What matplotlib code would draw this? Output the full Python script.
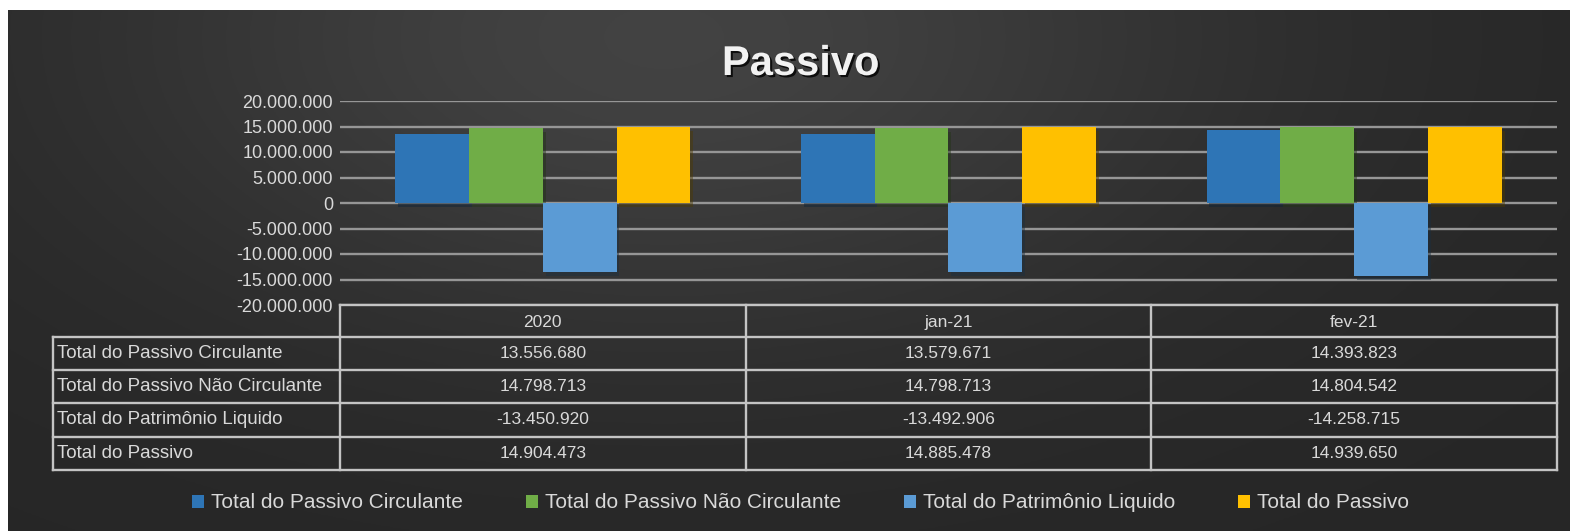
import matplotlib.pyplot as plt
import matplotlib.patheffects as pe
from matplotlib.patches import Patch
from matplotlib.transforms import blended_transform_factory
import numpy as np

plt.rcParams['font.family'] = ['Liberation Sans', 'DejaVu Sans']

periodos = ['2020', 'jan-21', 'fev-21']
series = ['Total do Passivo Circulante', 'Total do Passivo Não Circulante',
          'Total do Patrimônio Liquido', 'Total do Passivo']
passivo_circulante = [13556680, 13579671, 14393823]
passivo_nao_circulante = [14798713, 14798713, 14804542]
patrimonio_liquido = [-13450920, -13492906, -14258715]
total_passivo = [14904473, 14885478, 14939650]
valores = [passivo_circulante, passivo_nao_circulante, patrimonio_liquido, total_passivo]
cores = ['#2E75B6', '#70AD47', '#5B9BD5', '#FFC000']
yticks = np.arange(-20000000, 20000001, 5000000)

TXT = '#d9d9d9'
GRID = '#969696'


def fmt(v):
    return format(int(v), ',').replace(',', '.')


W, H = 1570, 531
fig = plt.figure(figsize=(W / 100, H / 100), dpi=100)
fig.patch.set_facecolor('white')

# fundo escuro com brilho no alto
bg = fig.add_axes([8 / W, 0, 1 - 8 / W, 1 - 10 / H])
yy, xx = np.mgrid[0:1:200j, 0:1:600j]
d = np.sqrt(((xx - 0.42) * 1.6) ** 2 + ((yy - 0.05) * 1.0) ** 2)
lum = 0.15 + 0.11 * np.exp(-d ** 2 / 0.35)
bg.imshow(np.dstack([lum, lum, lum]), aspect='auto', extent=[0, 1, 0, 1], origin='upper')
bg.axis('off')

px = lambda v: v / W
py = lambda v: 1 - v / H
ax = fig.add_axes([px(340), py(305), px(1557) - px(340), py(101) - py(305)])
ax.set_facecolor('none')

x = np.arange(len(periodos))
larg = 0.182
for i, (nome, vals, cor) in enumerate(zip(series, valores, cores)):
    ax.bar(x + (i - 1.5) * larg, vals, larg, color=cor, zorder=3,
           path_effects=[pe.SimplePatchShadow(offset=(2, -3), alpha=0.45), pe.Normal()])

ax.set_xlim(-0.5, len(periodos) - 0.5)
ax.set_ylim(-20000000, 20000000)
ax.set_yticks(yticks)
ax.set_yticklabels([fmt(v) for v in yticks], color=TXT, fontsize=13)
ax.tick_params(axis='y', length=0, pad=5)
ax.set_xticks([])
for s in ax.spines.values():
    s.set_visible(False)
ax.grid(axis='y', color=GRID, lw=1.7, zorder=0)

# tabela de dados
tr = blended_transform_factory(ax.transData, ax.transAxes)
ah = 204.0
row_h = 33.2 / ah
lab_x0 = (53 - 340) / (1557 - 340) * 3 - 0.5  # em unidades de dados
LC = '#c4c4c4'
lw = 1.7
n = len(series)
y_top = 0
y_head = -32 / ah
y_rows = [y_head - row_h * k for k in range(n + 1)]

ax.plot([-0.5, 2.5], [y_top, y_top], transform=tr, color=LC, lw=lw, clip_on=False)
for yv in y_rows:
    ax.plot([lab_x0, 2.5], [yv, yv], transform=tr, color=LC, lw=lw, clip_on=False)
for xv in [-0.5, 0.5, 1.5, 2.5]:
    ax.plot([xv, xv], [y_top, y_rows[-1]], transform=tr, color=LC, lw=lw, clip_on=False)
ax.plot([lab_x0, lab_x0], [y_head, y_rows[-1]], transform=tr, color=LC, lw=lw, clip_on=False)

for j, p in enumerate(periodos):
    ax.text(j, y_head / 2 - 0.008, p, transform=tr, ha='center', va='center', color=TXT, fontsize=12.5)
for k, (nome, vals) in enumerate(zip(series, valores)):
    yc = y_head - row_h * (k + 0.5)
    ax.text(lab_x0 + 0.01, yc, nome, transform=tr, ha='left', va='center', color=TXT, fontsize=13.5)
    for j, v in enumerate(vals):
        ax.text(j, yc, fmt(v), transform=tr, ha='center', va='center', color=TXT, fontsize=12.5)

# legenda
handles = [Patch(facecolor=c, edgecolor='none') for c in cores]
leg = fig.legend(handles, series, loc='center', bbox_to_anchor=(0.51, py(503)), ncol=4,
                 frameon=False, fontsize=15, handlelength=0.58, handleheight=0.58,
                 handletextpad=0.35, columnspacing=3.0)
for t in leg.get_texts():
    t.set_color(TXT)

fig.text(0.51, py(64), 'Passivo', ha='center', va='center', color='#f2f2f2',
         fontsize=30, fontweight='bold',
         path_effects=[pe.withSimplePatchShadow(offset=(1.5, -1.5), shadow_rgbFace='black', alpha=0.8)])

fig.savefig('out.png', dpi=100, facecolor=fig.get_facecolor())
